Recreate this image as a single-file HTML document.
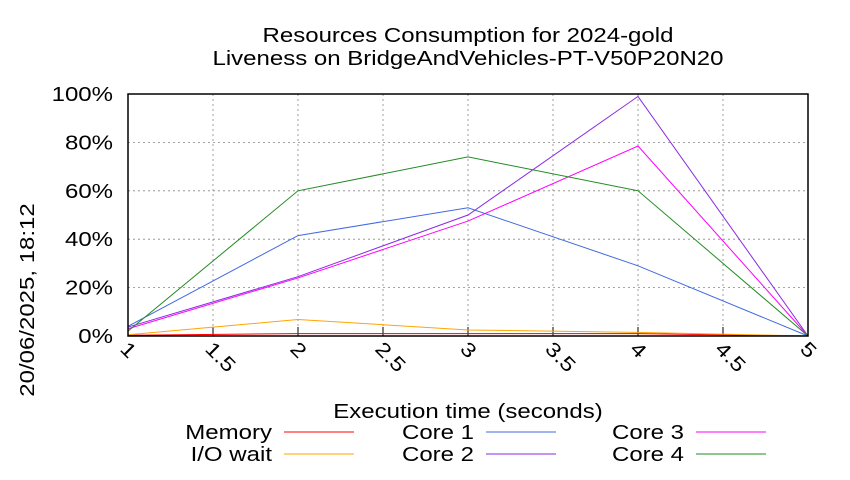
<!DOCTYPE html>
<html><head><meta charset="utf-8"><style>
body{margin:0;background:#fff;}
svg{font-family:"Liberation Sans",sans-serif;}
</style></head><body>
<svg id="chart" width="850" height="475" xmlns="http://www.w3.org/2000/svg">
<text x="468" y="42" font-size="20" text-anchor="middle">Resources Consumption for 2024-gold</text>
<text x="468" y="65" font-size="20" text-anchor="middle">Liveness on BridgeAndVehicles-PT-V50P20N20</text>
<text transform="translate(34,300) rotate(-90)" font-size="20" text-anchor="middle">20/06/2025, 18:12</text>
<text x="468" y="418" font-size="20" text-anchor="middle">Execution time (seconds)</text>
<g id="grid"></g><g id="series"></g><g id="legend"></g>
<rect x="128" y="94" width="680" height="242" fill="none" stroke="#000" stroke-width="1.5"/>
</svg>
<script>
const xTicks=[1,1.5,2,2.5,3,3.5,4,4.5,5];
const xTickLabels=["1","1.5","2","2.5","3","3.5","4","4.5","5"];
const yTicks=[0,20,40,60,80,100];
const yTickLabels=["0%","20%","40%","60%","80%","100%"];
const times=[1,2,3,4,5];
const memory=[0.3,1,1,1,0];
const ioWait=[0.5,6.8,2.5,1.5,0];
const core1=[4,41.5,53,29,0];
const core2=[3.7,24.5,50,99,0];
const core3=[3,24,47.5,78.5,0];
const core4=[2,60,74,60,0];
const seriesNames=["Memory","I/O wait","Core 1","Core 2","Core 3","Core 4"];
const seriesColors=["#ff0000","#ffa500","#4169e1","#8a2be2","#ff00ff","#228b22"];
const seriesData=[memory,ioWait,core1,core2,core3,core4];
const NS="http://www.w3.org/2000/svg";
const X=v=>128+(v-1)/4*680, Y=v=>336-v/100*242;
function mk(t,a,p){const e=document.createElementNS(NS,t);for(const k in a)e.setAttribute(k,a[k]);p.appendChild(e);return e;}
const grid=document.getElementById('grid');
xTicks.forEach((t,i)=>{
 if(i>0&&i<xTicks.length-1){const l=mk('line',{x1:X(t),x2:X(t),y1:94,y2:336,stroke:'#888','stroke-dasharray':'2,3','stroke-width':0.8},grid);
 
 }
 const tk=mk('line',{x1:X(t),x2:X(t),y1:336,y2:327,stroke:'#000'},grid);
 
 
 const tx=mk('text',{transform:`translate(${X(t)-9},${350}) rotate(45)`,'font-size':20},grid);
 tx.textContent=xTickLabels[i];
 
 
});
yTicks.forEach((t,i)=>{
 if(i>0&&i<yTicks.length-1){const l=mk('line',{x1:128,x2:808,y1:Y(t),y2:Y(t),stroke:'#888','stroke-dasharray':'2,3','stroke-width':0.8},grid);
 
 }
 const tx=mk('text',{x:113,y:Y(t)+7,'font-size':20,'text-anchor':'end'},grid);
 tx.textContent=yTickLabels[i];
 
 
});
const sg=document.getElementById('series'), lg=document.getElementById('legend');
const legPos=[[272,432],[272,454],[474,432],[474,454],[684,432],[684,454]];
seriesData.forEach((d,i)=>{
 const pl=mk('polyline',{points:d.map((v,j)=>X(times[j])+','+Y(v)).join(' '),fill:'none',stroke:seriesColors[i],'stroke-width':1},sg);
 
 
 const [lx,ly]=legPos[i];
 const t=mk('text',{x:lx,y:ly+7,'font-size':20,'text-anchor':'end'},lg);
 t.textContent=seriesNames[i];
 
 
 const l=mk('line',{x1:lx+12,x2:lx+82,y1:ly,y2:ly,stroke:seriesColors[i]},lg);
 
 
});
document.querySelectorAll('text').forEach(t=>{
 const w=t.getComputedTextLength();
 if(w>0){t.setAttribute('textLength',(w*1.2).toFixed(1));t.setAttribute('lengthAdjust','spacingAndGlyphs');}
});
</script>
</body></html>
